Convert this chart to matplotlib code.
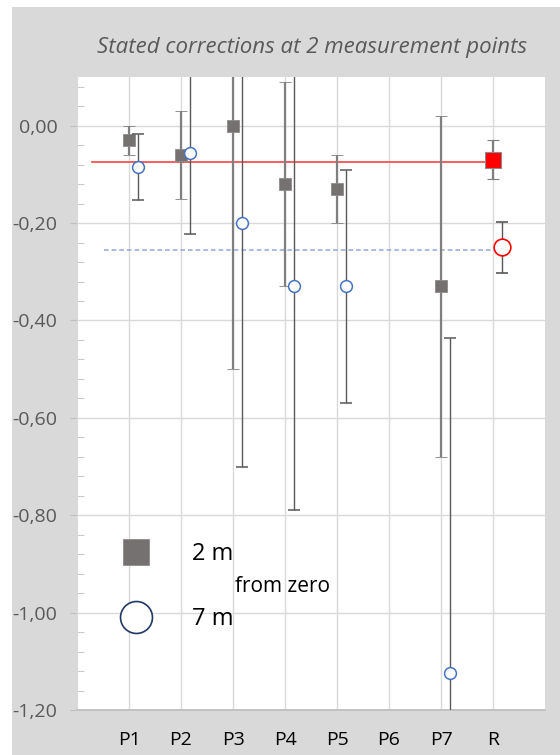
import numpy as np
import matplotlib
matplotlib.use('Agg')
import matplotlib.pyplot as plt
from matplotlib.ticker import MultipleLocator, FuncFormatter
from matplotlib.lines import Line2D
from matplotlib.patches import Rectangle

#categories on the x axis
labels = ['P1', 'P2', 'P3', 'P4', 'P5', 'P6', 'P7']
ref_label = 'R'

#corrections at 2 m, with their uncertainties (P6 has no value)
val_2m = [-0.03, -0.06, 0.00, -0.12, -0.13, np.nan, -0.33]
err_2m = [0.03, 0.09, 0.50, 0.21, 0.07, np.nan, 0.35]
#corrections at 7 m
val_7m = [-0.085, -0.057, -0.20, -0.33, -0.33, np.nan, -1.125]
err_7m = [0.068, 0.165, 0.50, 0.46, 0.24, np.nan, 0.69]

#reference values
ref_2m, ref_err_2m = -0.07, 0.04
ref_7m, ref_err_7m = -0.25, 0.053

#horizontal reference levels
level_2m = -0.075
level_7m = -0.255

plt.rcParams['font.family'] = ['Open Sans', 'DejaVu Sans']

fig = plt.figure(figsize=(5.6, 7.55), dpi=100, facecolor='white')
#grey chart area, a thin white strip stays at the top and left
fig.patches.append(Rectangle((12/560, 0), 1, 1 - 7/755, transform=fig.transFigure,
                             facecolor='#d9d9d9', edgecolor='none', zorder=-10))

ax = fig.add_axes([77/560, 45/755, 468/560, 633/755])
ax.set_facecolor('white')

x = np.arange(1, len(labels) + 1)
x_ref = len(labels) + 1
shift = 0.18

#reference lines
ax.plot([0.29, x_ref], [level_2m, level_2m], color='#ff5050', lw=1.3, zorder=2)
ax.plot([0.52, x_ref + shift], [level_7m, level_7m], color='#8faadc', lw=1.1,
        ls=(0, (3, 2)), zorder=2)

#2 m series
ax.errorbar(x, val_2m, yerr=err_2m, fmt='s', ms=8, mfc='#767171', mec='#8c8c8c',
            mew=0.6, ecolor='#7f7f7f', elinewidth=1.6, capsize=4, capthick=1.3, zorder=3)
ax.errorbar([x_ref], [ref_2m], yerr=[ref_err_2m], fmt='s', ms=11.5, mfc='#ff0000',
            mec='#8c8c8c', mew=0.8, ecolor='#7f7f7f', elinewidth=1.6, capsize=4,
            capthick=1.3, zorder=3)

#7 m series
ax.errorbar(x + shift, val_7m, yerr=err_7m, fmt='o', ms=8.5, mfc='white', mec='#4472c4',
            mew=1.1, ecolor='#595959', elinewidth=1.0, capsize=4, capthick=1.0, zorder=4)
ax.errorbar([x_ref + shift], [ref_7m], yerr=[ref_err_7m], fmt='o', ms=12, mfc='white',
            mec='#ff0000', mew=1.2, ecolor='#595959', elinewidth=1.0, capsize=4,
            capthick=1.0, zorder=4)

ax.set_xlim(0, 9)
ax.set_ylim(-1.2, 0.1)

ax.set_xticks(list(x) + [x_ref])
ax.set_xticklabels(labels + [ref_label], fontsize=14, color='black')
ax.yaxis.set_major_locator(MultipleLocator(0.2))
ax.yaxis.set_minor_locator(MultipleLocator(0.04))
ax.yaxis.set_major_formatter(FuncFormatter(lambda v, p: ('%.2f' % v).replace('.', ',')
                                           .replace('-0,00', '0,00')))
ax.tick_params(axis='y', which='major', direction='out', length=5, color='#bfbfbf',
               labelsize=14, labelcolor='#595959', pad=9)
ax.tick_params(axis='y', which='minor', direction='in', length=5, color='#bfbfbf')
ax.tick_params(axis='x', length=0, pad=15)

ax.grid(True, which='major', color='#d9d9d9', lw=1.0, zorder=0)
ax.set_axisbelow(True)
for s in ['top', 'right']:
    ax.spines[s].set_visible(False)
ax.spines['left'].set_color('#d9d9d9')
ax.spines['bottom'].set_color('#bfbfbf')
ax.spines['bottom'].set_linewidth(1.3)

#title
fig.text(312/560, 1 - 47/755, 'Stated corrections at 2 measurement points', ha='center',
         va='center', fontsize=16, style='italic', color='#595959')

#legend inside the plot
handles = [Line2D([], [], ls='none', marker='s', ms=19, mfc='#767171', mec='#8c8c8c', mew=0.6),
           Line2D([], [], ls='none', marker='o', ms=23, mfc='white', mec='#1f3864', mew=1.2)]
leg = ax.legend(handles, ['2 m', '7 m'], loc='center left', bbox_to_anchor=(0.051, 0.195),
                frameon=False, fontsize=17, borderpad=0, handlelength=2, handletextpad=1.36,
                labelspacing=1.75)
ax.text(3.04, -0.946, 'from zero', fontsize=15, color='black', va='center', ha='left')

fig.savefig('out.png', dpi=100, facecolor=fig.get_facecolor())
